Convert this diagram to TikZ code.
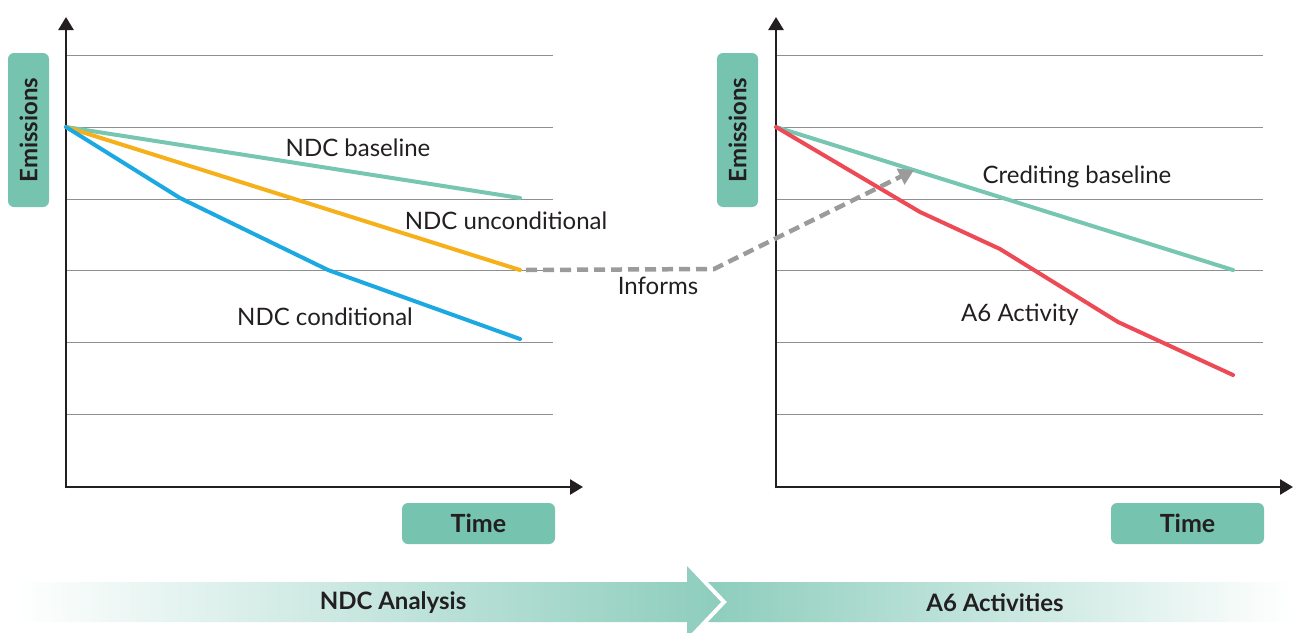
\documentclass[tikz,border=0pt]{standalone}
\usepackage{fontspec}
\setmainfont{Lato}
\usetikzlibrary{arrows.meta}
\definecolor{tealbox}{HTML}{76C3B0}
\definecolor{tealline}{HTML}{76C6B1}
\definecolor{orangeline}{HTML}{F5B01A}
\definecolor{blueline}{HTML}{1CA9E1}
\definecolor{redline}{HTML}{EE4A55}
\definecolor{gridgray}{HTML}{8F8F8F}
\definecolor{axisblack}{HTML}{231F20}
\definecolor{dashgray}{HTML}{9B9B9B}
\definecolor{bannerteal}{HTML}{8DCDBD}
\definecolor{textdark}{HTML}{231F20}
\tikzset{
  gridline/.style={gridgray, line width=1pt},
  axisline/.style={axisblack, line width=2.6pt, -{Triangle[width=15pt,length=13pt]}},
  dataline/.style={line width=4pt, line cap=round, line join=round},
  tagbox/.style={fill=tealbox, rounded corners=6pt, text=textdark, font=\bfseries\fontsize{24}{28}\selectfont, inner sep=0pt},
  timebox/.style={tagbox, font=\bfseries\fontsize{25}{29}\selectfont},
  lbl/.style={text=textdark, font=\fontsize{24}{28}\selectfont, inner sep=0pt},
  bannertext/.style={text=textdark, font=\bfseries\fontsize{24}{28}\selectfont, inner sep=0pt},
}
\begin{document}
\begin{tikzpicture}[x=1pt,y=-1pt]
\useasboundingbox (0,0) rectangle (1293,632);
\clip (0,0) rectangle (1293,632);

% ---------- left chart ----------
\foreach \yy in {55,127,199,270,342,414} \draw[gridline] (66,\yy) -- (553,\yy);
\coordinate (ltop) at (66,17);
\coordinate (lright) at (583,487);
\draw[axisline] (66,488.3) -- (ltop);
\draw[axisline] (64.7,487) -- (lright);

\node[tagbox, minimum width=41pt, minimum height=154pt] (lem) at (28.5,130) {};
\node[tagbox, rotate=90] (lemt) at (lem.center) {Emissions};
\node[timebox, minimum width=153pt, minimum height=41pt] (ltime) at (478.5,523.5) {Time};

\coordinate (ls) at (66,127);
\coordinate (lbend) at (520,198);
\coordinate (luend) at (520,270);
\draw[dataline, tealline] (ls) -- (lbend);
\draw[dataline, orangeline] (ls) -- (luend);
\draw[dataline, blueline] (ls) -- (180,198) -- (328,270) -- (520,339);

\node[lbl] (lb) at (358,148) {NDC baseline};
\node[lbl] (lu) at (506,221) {NDC unconditional};
\node[lbl] (lc) at (325,317) {NDC conditional};

% ---------- right chart ----------
\foreach \yy in {55,127,199,270,342,414} \draw[gridline] (776,\yy) -- (1263,\yy);
\coordinate (rtop) at (776,17);
\coordinate (rright) at (1293,487);
\draw[axisline] (776,488.3) -- (rtop);
\draw[axisline] (774.7,487) -- (rright);

\node[tagbox, minimum width=41pt, minimum height=154pt] (rem) at (737.5,130) {};
\node[tagbox, rotate=90] (remt) at (rem.center) {Emissions};
\node[timebox, minimum width=153pt, minimum height=41pt] (rtime) at (1187.5,523.5) {Time};

\coordinate (rs) at (776,127);
\draw[dataline, tealline] (rs) -- (1233,270);
\draw[dataline, redline] (rs) -- (920,212) -- (1000,249) -- (1118,322) -- (1233,375);

\node[lbl] (rb) at (1077,177) {Crediting baseline};
\node[lbl] (ra) at (1020,315) {A6 Activity};

% ---------- informs arrow ----------
\coordinate (itarget) at (914,170);
\draw[dashgray, line width=4.5pt, dash pattern=on 11pt off 6pt,
      -{Triangle[width=17pt,length=15pt]}]
  (luend) ++(6,0) -- (714,269) -- (itarget);
\node[lbl] (inf) at (658,286) {Informs};

% ---------- banner ----------
\shade[left color=white, right color=bannerteal]
  (15,582) -- (687,582) -- (687,566) -- (721,602) -- (687,638) -- (687,622) -- (15,622) -- cycle;
\shade[left color=bannerteal, right color=white]
  (708,582) -- (1293,582) -- (1293,622) -- (708,622) -- (727,602) -- cycle;
\node[bannertext] (b1) at (393,603) {NDC Analysis};
\node[bannertext] (b2) at (995,603) {A6 Activities};
\end{tikzpicture}
\end{document}
